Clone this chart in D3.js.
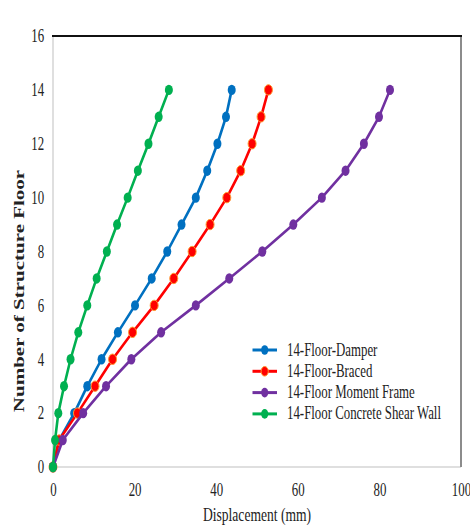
<!DOCTYPE html>
<html>
<head>
<meta charset="utf-8">
<script src="https://cdn.jsdelivr.net/npm/d3@7"></script>
<style>
  html, body { margin: 0; padding: 0; background: #fff; }
  svg { display: block; }
  text { font-family: "Liberation Serif", "Times New Roman", serif; fill: #222; }
</style>
</head>
<body>
<svg id="chart" width="470" height="526"></svg>
<script>
// Storey numbers (0 = ground) shared by every series
const floors = [0, 1, 2, 3, 4, 5, 6, 7, 8, 9, 10, 11, 12, 13, 14];

// Lateral displacement per storey, mm
const damper      = [0, 1.5, 5.2, 8.4, 11.9, 15.9, 20.1, 24.2, 28.0, 31.5, 35.0, 37.8, 40.3, 42.4, 43.8];
const braced      = [0, 1.5, 6.0, 10.3, 14.6, 19.5, 24.8, 29.6, 34.1, 38.5, 42.6, 46.0, 48.8, 51.0, 52.8];
const momentFrame = [0, 2.4, 7.4, 13.0, 19.2, 26.5, 35.0, 43.2, 51.3, 58.9, 65.9, 71.7, 76.2, 79.9, 82.6];
const shearWall   = [0, 0.5, 1.3, 2.7, 4.3, 6.2, 8.4, 10.7, 13.2, 15.7, 18.3, 20.8, 23.4, 25.9, 28.4];

const seriesNames  = ["14-Floor-Damper", "14-Floor-Braced", "14-Floor Moment Frame", "14-Floor Concrete Shear Wall"];
const seriesValues = [damper, braced, momentFrame, shearWall];
const seriesColors = ["#0070c0", "#ff0000", "#7030a0", "#00b050"];

const xTicks = [0, 20, 40, 60, 80, 100];
const yTicks = [0, 2, 4, 6, 8, 10, 12, 14, 16];

const SQ = 0.715; // horizontal squeeze applied to the lettering

const svg = d3.select("#chart");
const plot = { left: 53, right: 461, top: 36, bottom: 467 };

const x = d3.scaleLinear().domain([0, 100]).range([plot.left, plot.right]);
const y = d3.scaleLinear().domain([0, 16]).range([plot.bottom, plot.top]);

// Plot frame
svg.append("line").attr("x1", plot.left).attr("x2", plot.left).attr("y1", plot.top).attr("y2", plot.bottom)
  .attr("stroke", "#d4d4d4").attr("stroke-width", 1.5);
svg.append("line").attr("x1", plot.left).attr("x2", plot.right).attr("y1", plot.bottom).attr("y2", plot.bottom)
  .attr("stroke", "#d4d4d4").attr("stroke-width", 1.5);
svg.append("line").attr("x1", plot.right).attr("x2", plot.right).attr("y1", plot.top).attr("y2", plot.bottom)
  .attr("stroke", "#8c8c8c").attr("stroke-width", 2);
svg.append("line").attr("x1", plot.left - 1).attr("x2", plot.right + 1).attr("y1", plot.top).attr("y2", plot.top)
  .attr("stroke", "#111").attr("stroke-width", 2);

// Axes
const xAxis = svg.append("g").attr("transform", `translate(0,${plot.bottom})`)
  .call(d3.axisBottom(x).tickValues(xTicks).tickSize(0).tickPadding(16).tickFormat(d3.format("d")));
const yAxis = svg.append("g").attr("transform", `translate(${plot.left},0)`)
  .call(d3.axisLeft(y).tickValues(yTicks).tickSize(0).tickPadding(12.5).tickFormat(d3.format("d")));
[xAxis, yAxis].forEach(g => {
  g.select(".domain").remove();
  g.selectAll("text")
    .attr("font-family", "Liberation Serif, Times New Roman, serif")
    .attr("font-size", 18)
    .attr("fill", "#222")
    .attr("transform", `scale(${SQ},1)`);
});

// Axis titles
svg.append("text")
  .attr("transform", `translate(257,521) scale(${SQ},1)`)
  .attr("text-anchor", "middle").attr("font-size", 19)
  .text("Displacement (mm)");
svg.append("text")
  .attr("transform", `translate(23.5,291) scale(${SQ},1) rotate(-90)`)
  .attr("text-anchor", "middle").attr("font-size", 21).attr("font-weight", "bold")
  .text("Number of Structure Floor");

// Series
const line = d3.line().x(d => x(d[0])).y(d => y(d[1]));
seriesValues.forEach((vals, i) => {
  const pts = vals.map((v, k) => [v, floors[k]]);
  const g = svg.append("g");
  g.append("path").datum(pts)
    .attr("d", line).attr("fill", "none")
    .attr("stroke", seriesColors[i]).attr("stroke-width", 2.6)
    .attr("stroke-linejoin", "round");
  g.selectAll("ellipse").data(pts).join("ellipse")
    .attr("cx", d => x(d[0])).attr("cy", d => y(d[1]))
    .attr("rx", 4).attr("ry", 5.2)
    .attr("fill", seriesColors[i])
    .attr("stroke", i === 1 ? "#ff9a30" : "none")
    .attr("stroke-width", 1);
});

// Legend
const legend = svg.append("g");
const rowY = [350, 371.3, 392.6, 413.9];
seriesNames.forEach((name, i) => {
  const r = legend.append("g").attr("transform", `translate(0,${rowY[i]})`);
  r.append("line").attr("x1", 252.5).attr("x2", 277).attr("y1", 0).attr("y2", 0)
    .attr("stroke", seriesColors[i]).attr("stroke-width", 3);
  r.append("ellipse").attr("cx", 264.7).attr("cy", 0).attr("rx", 3.6).attr("ry", 4.8)
    .attr("fill", seriesColors[i])
    .attr("stroke", i === 1 ? "#ff9a30" : "none").attr("stroke-width", 1);
  r.append("text").attr("transform", `translate(287,5.5) scale(${SQ},1)`)
    .attr("font-size", 18).text(name);
});
</script>
</body>
</html>
